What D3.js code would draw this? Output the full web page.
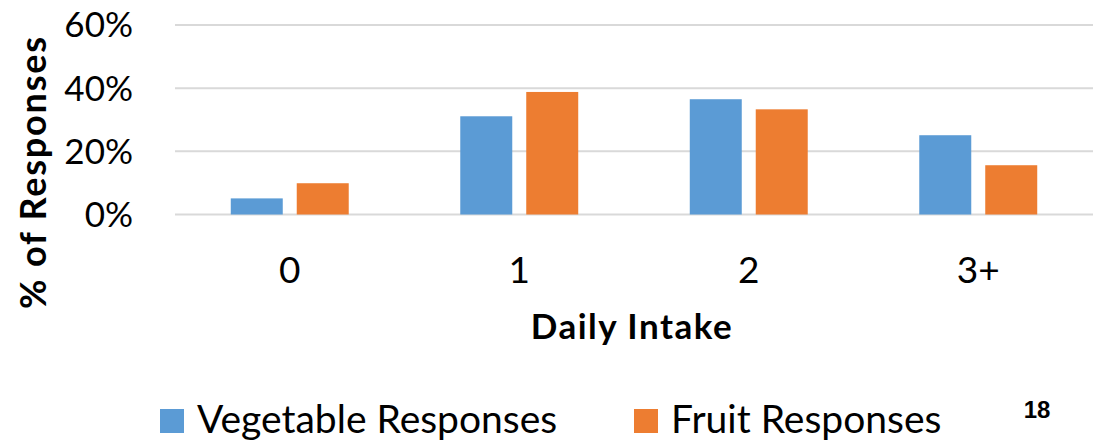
<!DOCTYPE html>
<html>
<head>
<meta charset="utf-8">
<script src="https://cdn.jsdelivr.net/npm/d3@7"></script>
<style>
  body { margin: 0; background: #fff; }
  text { fill: #000; }
</style>
</head>
<body>
<div class="chart"></div>
<script>
var categories = ["0", "1", "2", "3+"];
var seriesNames = ["Vegetable Responses", "Fruit Responses"];
var vegetable = [0.051, 0.311, 0.365, 0.251];
var fruit = [0.099, 0.388, 0.333, 0.156];
var yTicks = [0, 0.2, 0.4, 0.6];
var colors = ["#5B9BD5", "#ED7D31"];

var width = 1095, height = 440;
var plot = {left: 175, right: 1093, top: 25, bottom: 214.5};
var font = "Lato, 'Open Sans', sans-serif";

var svg = d3.select(".chart").append("svg")
  .attr("width", width)
  .attr("height", height)
  .style("font-family", font);

var x0 = d3.scaleBand()
  .domain(categories)
  .range([plot.left, plot.right])
  .paddingInner(0.486)
  .paddingOuter(0.243);

var x1 = d3.scaleBand()
  .domain([0, 1])
  .range([0, x0.bandwidth()])
  .paddingInner(0.212);

var y = d3.scaleLinear()
  .domain([0, 0.6])
  .range([plot.bottom, plot.top]);

// gridlines
svg.append("g")
  .selectAll("line")
  .data(yTicks)
  .enter().append("line")
  .attr("x1", plot.left)
  .attr("x2", plot.right)
  .attr("y1", function(d) { return y(d); })
  .attr("y2", function(d) { return y(d); })
  .attr("stroke", "#D9D9D9")
  .attr("stroke-width", 2);

// y axis labels
var yAxis = d3.axisLeft(y)
  .tickValues(yTicks)
  .tickFormat(d3.format(".0%"))
  .tickSize(0)
  .tickPadding(0);

svg.append("g")
  .attr("transform", "translate(133,0)")
  .call(yAxis)
  .call(function(g) { g.select(".domain").remove(); })
  .selectAll("text")
  .style("font-family", font)
  .style("font-size", "35px")
  .attr("dy", "0.34em");

// x axis labels
var xAxis = d3.axisBottom(x0).tickSize(0).tickPadding(0);
svg.append("g")
  .attr("transform", "translate(0,256)")
  .call(xAxis)
  .call(function(g) { g.select(".domain").remove(); })
  .selectAll("text")
  .style("font-family", font)
  .style("font-size", "37px")
  .attr("dy", "0.72em");

// bars
var rows = categories.map(function(c, i) {
  return {cat: c, values: [vegetable[i], fruit[i]]};
});

svg.append("g")
  .selectAll("g")
  .data(rows)
  .enter().append("g")
  .attr("transform", function(d) { return "translate(" + x0(d.cat) + ",0)"; })
  .selectAll("rect")
  .data(function(d) { return d.values.map(function(v, j) { return {v: v, j: j}; }); })
  .enter().append("rect")
  .attr("x", function(d) { return x1(d.j); })
  .attr("width", x1.bandwidth())
  .attr("y", function(d) { return y(d.v); })
  .attr("height", function(d) { return y(0) - y(d.v); })
  .attr("fill", function(d) { return colors[d.j]; });

// axis titles
svg.append("text")
  .attr("x", 632)
  .attr("y", 339)
  .attr("text-anchor", "middle")
  .style("font-size", "35px")
  .style("font-weight", "bold")
  .style("letter-spacing", "1.5px")
  .text("Daily Intake");

svg.append("text")
  .attr("transform", "translate(46,172) rotate(-90)")
  .attr("text-anchor", "middle")
  .style("font-size", "36px")
  .style("font-weight", "bold")
  .style("letter-spacing", "1.8px")
  .text("% of Responses");

// legend
var legendX = [160, 634];
var legend = svg.append("g")
  .selectAll("g")
  .data(seriesNames)
  .enter().append("g")
  .attr("transform", function(d, i) { return "translate(" + legendX[i] + ",409)"; });

legend.append("rect")
  .attr("width", 24)
  .attr("height", 24)
  .attr("fill", function(d, i) { return colors[i]; });

legend.append("text")
  .attr("x", 37)
  .attr("y", 24)
  .style("font-size", "39px")
  .text(function(d) { return d; });

// slide number
svg.append("text")
  .attr("x", 1037)
  .attr("y", 418)
  .attr("text-anchor", "middle")
  .style("font-family", "'Liberation Sans', Arial, sans-serif")
  .style("font-size", "24px")
  .style("font-weight", "bold")
  .text("18");
</script>
</body>
</html>
